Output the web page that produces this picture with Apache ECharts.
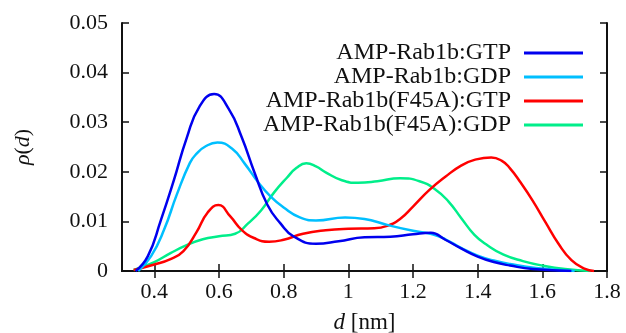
<!DOCTYPE html>
<html>
<head>
<meta charset="utf-8">
<script src="https://cdn.jsdelivr.net/npm/echarts@6/dist/echarts.min.js"></script>
<style>
  html, body { margin: 0; padding: 0; background: #fff; }
  #chart { width: 626px; height: 333px; }
</style>
</head>
<body>
<div id="chart"></div>
<script>
// AMP-Rab1b:GTP
const rabGtpD = [0.342, 0.38, 0.42, 0.46, 0.5, 0.54, 0.585, 0.63, 0.67, 0.71, 0.75, 0.79, 0.83, 0.9, 0.97,
  1.05, 1.13, 1.2, 1.255, 1.3, 1.35, 1.4, 1.45, 1.5, 1.57, 1.69];
const rabGtpRho = [0, 0.0030, 0.0102, 0.0182, 0.0268, 0.0332, 0.0357, 0.0327, 0.0270, 0.0198, 0.0133, 0.0096, 0.0070, 0.0055, 0.0060,
  0.0068, 0.0069, 0.0074, 0.0077, 0.0063, 0.0045, 0.0029, 0.0018, 0.0011, 0.0004, 0];

// AMP-Rab1b:GDP
const rabGdpD = [0.35, 0.39, 0.43, 0.47, 0.51, 0.53, 0.56, 0.595, 0.64, 0.68, 0.72, 0.76, 0.8, 0.85, 0.9, 0.99,
  1.05, 1.12, 1.2, 1.26, 1.3, 1.35, 1.4, 1.45, 1.5, 1.58, 1.7];
const rabGdpRho = [0, 0.0030, 0.0083, 0.0155, 0.0218, 0.0236, 0.0252, 0.0259, 0.0247, 0.0216, 0.0180, 0.0150, 0.0128, 0.0108, 0.0102, 0.0108,
  0.0105, 0.0093, 0.0081, 0.0074, 0.0064, 0.0046, 0.0031, 0.0021, 0.0014, 0.0006, 0];

// AMP-Rab1b(F45A):GTP
const f45aGtpD = [0.336, 0.4, 0.45, 0.49, 0.53, 0.565, 0.598, 0.635, 0.67, 0.71, 0.755, 0.8, 0.86, 0.93, 1.0,
  1.08, 1.12, 1.16, 1.2, 1.25, 1.3, 1.35, 1.39, 1.442, 1.475, 1.5, 1.53, 1.57, 1.61, 1.65, 1.69, 1.73, 1.76];
const f45aGtpRho = [0.0002, 0.0013, 0.0024, 0.0040, 0.0078, 0.0118, 0.0133, 0.0110, 0.0083, 0.0066, 0.0059, 0.0063, 0.0075, 0.0082, 0.0085,
  0.0086, 0.0091, 0.0105, 0.0130, 0.0163, 0.0190, 0.0213, 0.0224, 0.0229, 0.0222, 0.0207, 0.0181, 0.0142, 0.0098, 0.0055, 0.0022, 0.0005, 0];

// AMP-Rab1b(F45A):GDP
const f45aGdpD = [0.336, 0.4, 0.45, 0.5, 0.55, 0.6, 0.65, 0.69, 0.73, 0.77, 0.81, 0.84, 0.87, 0.9, 0.93, 0.98, 1.03,
  1.09, 1.16, 1.22, 1.27, 1.31, 1.35, 1.39, 1.43, 1.48, 1.54, 1.6, 1.67, 1.75];
const f45aGdpRho = [0.0002, 0.0018, 0.0036, 0.0052, 0.0064, 0.0070, 0.0075, 0.0096, 0.0122, 0.0158, 0.0188, 0.0208, 0.0217, 0.0211, 0.0199, 0.0183, 0.0178,
  0.0181, 0.0187, 0.0181, 0.0164, 0.0140, 0.0106, 0.0073, 0.0052, 0.0033, 0.0020, 0.0011, 0.0004, 0];

const seriesNames = ["AMP-Rab1b:GTP", "AMP-Rab1b:GDP", "AMP-Rab1b(F45A):GTP", "AMP-Rab1b(F45A):GDP"];
const seriesColors = ["#0000ee", "#00bfff", "#ff0000", "#00ee8a"];
const xTicks = [0.4, 0.6, 0.8, 1, 1.2, 1.4, 1.6, 1.8];

const font = "Liberation Serif";
const ink = "#111";

const toPairs = (ds, rhos) => ds.map((d, i) => [d, rhos[i]]);
const curves = [
  toPairs(rabGtpD, rabGtpRho),
  toPairs(rabGdpD, rabGdpRho),
  toPairs(f45aGtpD, f45aGtpRho),
  toPairs(f45aGdpD, f45aGdpRho),
];

const xBase = {
  type: "value",
  min: 0.3,
  max: 1.8,
  axisLine: { lineStyle: { color: ink, width: 2 } },
  axisTick: { inside: true, length: 7, customValues: xTicks, lineStyle: { color: ink, width: 1.5 } },
  splitLine: { show: false },
};
const yBase = {
  type: "value",
  min: 0,
  max: 0.05,
  interval: 0.01,
  axisLine: { lineStyle: { color: ink, width: 2 } },
  axisTick: { inside: true, length: 7, lineStyle: { color: ink, width: 1.5 } },
  splitLine: { show: false },
};

const chart = echarts.init(document.getElementById("chart"));
chart.setOption({
  animation: false,
  backgroundColor: "#fff",
  grid: { left: 122, right: 19, top: 23, bottom: 62, outerBoundsMode: "none", containLabel: false },
  legend: {
    orient: "vertical",
    align: "right",
    right: 43,
    top: 41,
    padding: 0,
    itemGap: 0,
    itemWidth: 59,
    itemHeight: 3,
    icon: "rect",
    selectedMode: false,
    textStyle: { fontFamily: font, fontSize: 24, lineHeight: 21, color: ink, padding: [0, 8, 0, 0] },
    data: seriesNames,
  },
  xAxis: [
    {
      ...xBase,
      position: "bottom",
      name: "{i|d} [nm]",
      nameLocation: "middle",
      nameGap: 40,
      nameTextStyle: {
        fontFamily: font, fontSize: 23, color: ink,
        rich: { i: { fontFamily: font, fontSize: 23, fontStyle: "italic", color: ink } },
      },
      axisLabel: {
        customValues: xTicks,
        margin: 10,
        fontFamily: font,
        fontSize: 22,
        color: ink,
        formatter: (v) => String(+v.toFixed(1)),
      },
    },
    { ...xBase, position: "top", axisLabel: { show: false } },
  ],
  yAxis: [
    {
      ...yBase,
      position: "left",
      name: "{i|ρ}({i|d})",
      nameLocation: "middle",
      nameRotate: 90,
      nameGap: 88,
      nameTextStyle: {
        fontFamily: font, fontSize: 22, color: ink,
        rich: { i: { fontFamily: font, fontSize: 22, fontStyle: "italic", color: ink } },
      },
      axisLabel: {
        margin: 14,
        fontFamily: font,
        fontSize: 22,
        color: ink,
        formatter: (v) => (v === 0 ? "0" : v.toFixed(2)),
      },
    },
    { ...yBase, position: "right", axisLabel: { show: false } },
  ],
  series: curves.map((pts, i) => ({
    name: seriesNames[i],
    type: "line",
    xAxisIndex: 0,
    yAxisIndex: 0,
    data: pts,
    smooth: 0.5,
    showSymbol: false,
    symbol: "none",
    color: seriesColors[i],
    lineStyle: { color: seriesColors[i], width: 2.5 },
    z: 2 + (3 - i),
  })),
});
</script>
</body>
</html>
